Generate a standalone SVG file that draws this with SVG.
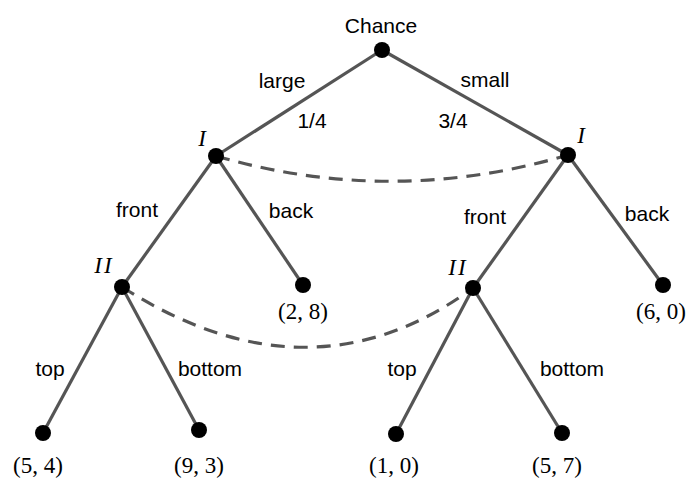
<svg xmlns="http://www.w3.org/2000/svg" width="691" height="481" viewBox="0 0 691 481">
<style>
.e{stroke:#555;stroke-width:3.2;fill:none}
.d{stroke:#555;stroke-width:3.2;fill:none;stroke-dasharray:14,9}
.n{fill:#000}
.s{font-family:"Liberation Sans",Arial,sans-serif;font-size:21px;fill:#000;text-anchor:middle}
.m{font-family:"Liberation Serif","Times New Roman",serif;font-size:23px;fill:#000;text-anchor:middle}
.i{font-style:italic;letter-spacing:2px}
</style>
<rect width="691" height="481" fill="#fff"/>
<g id="connectors">
<line class="e" x1="382" y1="50" x2="216" y2="156"/>
<line class="e" x1="382" y1="50" x2="568" y2="155"/>
<line class="e" x1="216" y1="156" x2="122" y2="287"/>
<line class="e" x1="216" y1="156" x2="303" y2="285"/>
<line class="e" x1="568" y1="155" x2="473" y2="288"/>
<line class="e" x1="568" y1="155" x2="663" y2="285"/>
<line class="e" x1="122" y1="287" x2="43" y2="433"/>
<line class="e" x1="122" y1="287" x2="199" y2="430"/>
<line class="e" x1="473" y1="288" x2="396" y2="434"/>
<line class="e" x1="473" y1="288" x2="562" y2="433"/>
<path class="d" d="M216,156 Q392,207 568,155"/>
<path class="d" d="M122,287 Q310,407 473,288"/>
<text class="s" x="282" y="88">large</text>
<text class="s" x="312" y="128">1/4</text>
<text class="s" x="485" y="87">small</text>
<text class="s" x="453" y="128">3/4</text>
<text class="s" x="137" y="217">front</text>
<text class="s" x="291" y="218">back</text>
<text class="s" x="485" y="224">front</text>
<text class="s" x="647" y="221">back</text>
<text class="s" x="50" y="376">top</text>
<text class="s" x="210" y="376">bottom</text>
<text class="s" x="402" y="376">top</text>
<text class="s" x="572" y="376">bottom</text>
</g>
<g id="chance"><circle class="n" cx="382" cy="50" r="8"/><text class="s" x="381" y="33">Chance</text></g>
<g id="I-left"><circle class="n" cx="216" cy="156" r="8"/><text class="m i" x="203" y="146">I</text></g>
<g id="I-right"><circle class="n" cx="568" cy="155" r="8"/><text class="m i" x="582" y="143">I</text></g>
<g id="II-left"><circle class="n" cx="122" cy="287" r="8"/><text class="m i" x="104" y="273">II</text></g>
<g id="II-right"><circle class="n" cx="473" cy="288" r="8"/><text class="m i" x="458" y="275">II</text></g>
<g id="leaf-28"><circle class="n" cx="303" cy="285" r="8"/><text class="m" x="303" y="319">(2, 8)</text></g>
<g id="leaf-60"><circle class="n" cx="663" cy="285" r="8"/><text class="m" x="661" y="319">(6, 0)</text></g>
<g id="leaf-54"><circle class="n" cx="43" cy="433" r="8"/><text class="m" x="38" y="473">(5, 4)</text></g>
<g id="leaf-93"><circle class="n" cx="199" cy="430" r="8"/><text class="m" x="199" y="473">(9, 3)</text></g>
<g id="leaf-10"><circle class="n" cx="396" cy="434" r="8"/><text class="m" x="394" y="473">(1, 0)</text></g>
<g id="leaf-57"><circle class="n" cx="562" cy="433" r="8"/><text class="m" x="557" y="473">(5, 7)</text></g>
</svg>
